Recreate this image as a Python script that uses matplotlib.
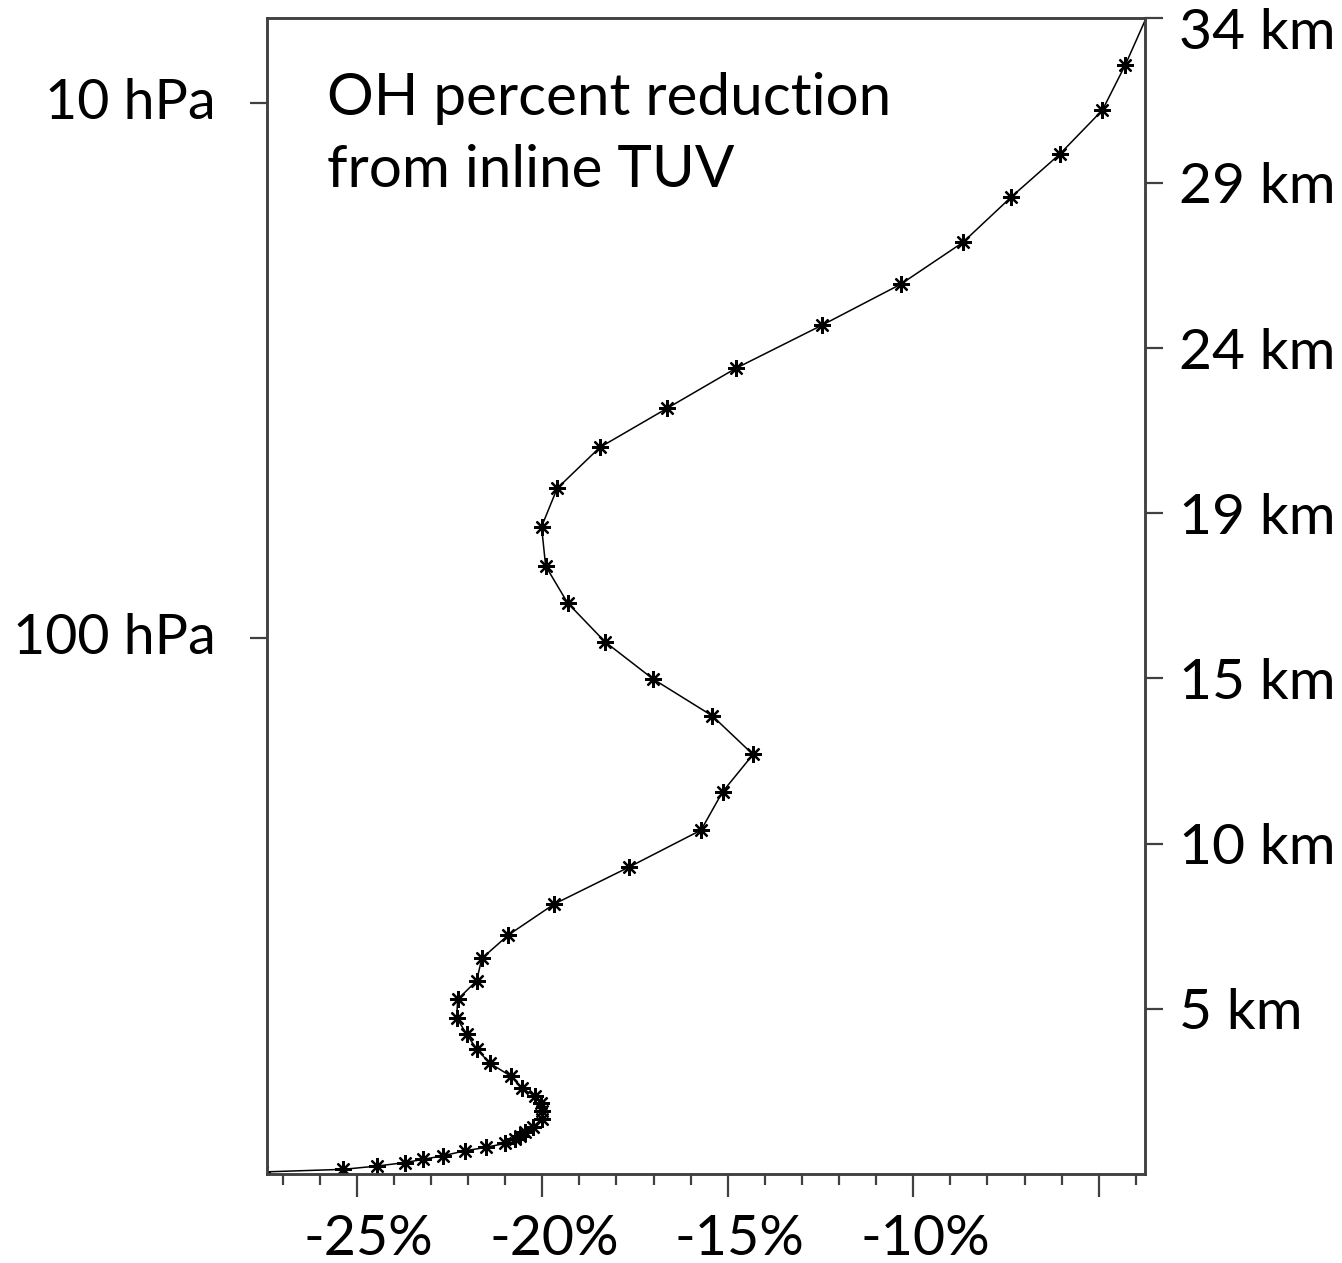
#!/usr/bin/env python3
"""
OH percent reduction profile from inline TUV, plotted against pressure
with an approximate altitude scale on the right.
"""

import numpy as np
import matplotlib.pyplot as plt
from matplotlib.ticker import FixedLocator, NullLocator, FixedFormatter
import matplotlib.transforms as mtransforms

plt.rcParams["font.family"] = ["Lato", "DejaVu Sans"]

# ---------------------------------------------------------------------------
# Profile data (top of the column first)
# ---------------------------------------------------------------------------

pressure_hpa = [
    6.4, 8.47, 10.3, 12.45, 15.0, 18.2, 21.8, 26.0, 31.3, 37.2, 44.0,
    52.5, 61.9, 73.3, 85.9, 101.6, 119.3, 139.7, 165.0, 193.8, 228.5,
    267.9, 314.2, 359.1, 397.0, 437.1, 473.5, 512.6, 549.9, 586.7, 623.7,
    658.8, 694.6, 718.0, 740.8, 764.9, 793.6, 819.4, 837.2, 852.8, 863.9,
    880.2, 895.4, 908.6, 928.5, 942.9, 955.9, 970.3, 984.2, 995.5,
]
oh_change_pct = [
    -3.5, -4.28, -4.90, -6.05, -7.37, -8.66, -10.34, -12.46, -14.78, -16.64, -18.45,
    -19.60, -20.02, -19.91, -19.32, -18.31, -17.01, -15.42, -14.32, -15.14, -15.72,
    -17.66, -19.68, -20.92, -21.63, -21.77, -22.28, -22.31, -22.04, -21.77, -21.41,
    -20.85, -20.54, -20.20, -20.04, -20.02, -20.02, -20.24, -20.47, -20.60, -20.74,
    -21.00, -21.52, -22.08, -22.68, -23.22, -23.70, -24.45, -25.36, -27.55,
]

x_major = [-25, -20, -15, -10, -5]
x_major_labels = ["-25%", "-20%", "-15%", "-10%", ""]
x_minor = list(range(-27, -3))

p_ticks = [10, 100]
p_labels = ["10 hPa", "100 hPa"]
km_labels = ["5 km", "10 km", "15 km", "19 km", "24 km", "29 km", "34 km"]

x_range = (-27.42, -3.76)
p_range = (1004.0, 6.92)

# ---------------------------------------------------------------------------
# Plot
# ---------------------------------------------------------------------------

spine_color = "#404040"

fig = plt.figure(figsize=(13.42, 12.63), dpi=100)
ax = fig.add_axes([0.199, 0.0705, 0.654, 0.9155])

ax.plot(oh_change_pct, pressure_hpa, color="black", linewidth=1.1,
        marker=(8, 2, 0), markersize=12, markeredgewidth=1.6,
        markeredgecolor="black")

ax.set_yscale("log")
ax.set_ylim(*p_range)
ax.set_xlim(*x_range)

for side in ["left", "right", "top", "bottom"]:
    ax.spines[side].set_color(spine_color)
    ax.spines[side].set_linewidth(1.8)

# pressure axis (left)
ax.yaxis.set_major_locator(FixedLocator(p_ticks))
ax.yaxis.set_major_formatter(FixedFormatter(p_labels))
ax.yaxis.set_minor_locator(NullLocator())
ax.tick_params(axis="y", which="major", direction="out", length=12, width=1.6,
               color=spine_color, labelsize=40, pad=25)
vshift = mtransforms.ScaledTranslation(0, 5 / 100, fig.dpi_scale_trans)
for lab in ax.get_yticklabels():
    lab.set_transform(lab.get_transform() + vshift)

# percent axis (bottom)
ax.xaxis.set_major_locator(FixedLocator(x_major))
ax.xaxis.set_major_formatter(FixedFormatter(x_major_labels))
ax.xaxis.set_minor_locator(FixedLocator(x_minor))
ax.tick_params(axis="x", which="major", direction="out", length=16.5, width=1.6,
               color=spine_color, labelsize=40, pad=12)
ax.tick_params(axis="x", which="minor", direction="out", length=8, width=1.6,
               color=spine_color)
shift = mtransforms.ScaledTranslation(12 / 100, 0, fig.dpi_scale_trans)
for lab in ax.get_xticklabels():
    lab.set_transform(lab.get_transform() + shift)

# altitude axis (right): evenly spaced in log-pressure
ax_km = ax.twinx()
ax_km.set_yscale("log")
ax_km.set_ylim(*p_range)
km_ticks = np.geomspace(p_range[0], p_range[1], len(km_labels) + 1)[1:]
ax_km.yaxis.set_major_locator(FixedLocator(km_ticks))
ax_km.yaxis.set_major_formatter(FixedFormatter(km_labels))
ax_km.yaxis.set_minor_locator(NullLocator())
ax_km.tick_params(axis="y", which="major", direction="out", length=13, width=1.6,
                  color=spine_color, labelsize=41, pad=12)
for side in ["left", "right", "top", "bottom"]:
    ax_km.spines[side].set_color(spine_color)
    ax_km.spines[side].set_linewidth(1.8)
km_text = ax_km.get_yticklabels()
km_text[-1].set_verticalalignment("top")
km_text[-1].set_transform(km_text[-1].get_transform()
                          + mtransforms.ScaledTranslation(0, 10 / 100, fig.dpi_scale_trans))

ax.text(0.068, 0.953, "OH percent reduction\nfrom inline TUV",
        transform=ax.transAxes, fontsize=42, va="top", ha="left",
        linespacing=1.45)

fig.savefig("out.png", dpi=100, facecolor="white")
